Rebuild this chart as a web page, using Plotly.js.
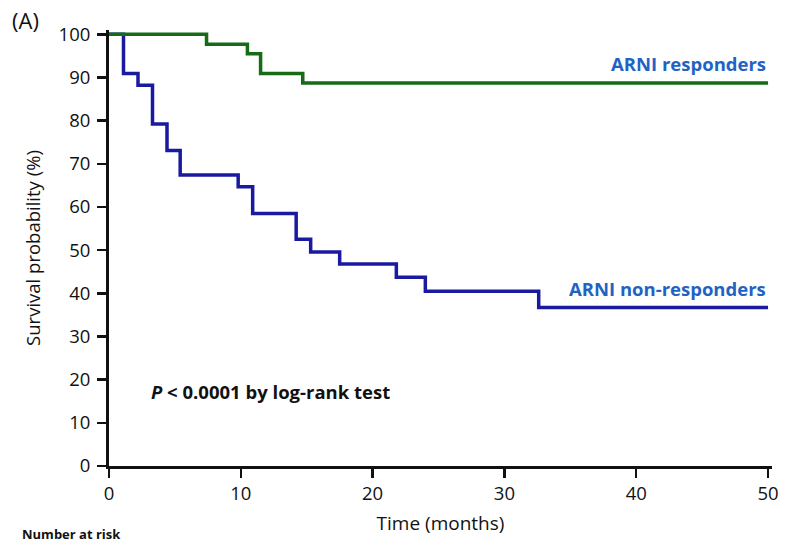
<!DOCTYPE html>
<html>
<head>
<meta charset="utf-8">
<script src="https://cdn.plot.ly/plotly-3.0.1.min.js"></script>
<style>html,body{margin:0;padding:0;background:#fff;}#chart{width:786px;height:545px;}</style>
</head>
<body>
<div id="chart"></div>
<script>
// Kaplan-Meier step data (time in months, survival %)
var respTimes = [0, 7.4, 10.5, 11.5, 14.7, 50];
var respSurv = [100, 97.7, 95.5, 90.9, 88.7, 88.7];
var nonTimes = [0, 1.1, 2.2, 3.3, 4.4, 5.4, 9.8, 10.9, 14.2, 15.3, 17.5, 21.8, 24.0, 32.6, 50];
var nonSurv = [100, 90.9, 88.2, 79.2, 73.1, 67.4, 64.7, 58.5, 52.5, 49.6, 46.8, 43.7, 40.5, 36.7, 36.7];
var xTicks = [0, 10, 20, 30, 40, 50];
var yTicks = [0, 10, 20, 30, 40, 50, 60, 70, 80, 90, 100];
var seriesNames = ["ARNI responders", "ARNI non-responders"];

var FONT = "Open Sans, Lato, sans-serif";

var traces = [
  {x: nonTimes, y: nonSurv, mode: "lines", line: {shape: "hv", color: "#1a1aa0", width: 3.5}, name: seriesNames[1]},
  {x: respTimes, y: respSurv, mode: "lines", line: {shape: "hv", color: "#176b17", width: 3.5}, name: seriesNames[0]}
];

var layout = {
  width: 786, height: 545,
  margin: {l: 109, r: 14, t: 30, b: 79},
  paper_bgcolor: "#fff", plot_bgcolor: "#fff",
  showlegend: false,
  font: {family: FONT, color: "#111", size: 18},
  xaxis: {
    range: [0, 50.3], tickvals: xTicks, ticktext: xTicks.map(String),
    showgrid: false, zeroline: false, showline: true, linecolor: "#111", linewidth: 3,
    ticks: "outside", ticklen: 9, tickwidth: 2.5, tickcolor: "#111",
    tickfont: {family: FONT, size: 18.5, color: "#111"},
    title: {text: "Time (months)", font: {family: FONT, size: 19, color: "#111"}, standoff: 13}
  },
  yaxis: {
    range: [0, 101], tickvals: yTicks, ticktext: yTicks.map(String),
    showgrid: false, zeroline: false, showline: true, linecolor: "#111", linewidth: 3,
    ticks: "outside", ticklen: 9, tickwidth: 2.5, tickcolor: "#111",
    tickfont: {family: FONT, size: 18.5, color: "#111"},
    ticklabelstandoff: 3,
    title: {text: "Survival probability (%)", font: {family: FONT, size: 18.5, color: "#111"}, standoff: 14}
  },
  annotations: [
    {text: "(A)", xref: "paper", yref: "paper", x: 0, y: 1, xshift: -99, yshift: 10, xanchor: "left", yanchor: "middle", showarrow: false, font: {family: FONT, size: 22, color: "#111"}},
    {text: "<b>ARNI responders</b>", xref: "x", yref: "y", x: 50, y: 88.7, xanchor: "right", yanchor: "bottom", yshift: 5, showarrow: false, font: {family: FONT, size: 18.5, color: "#1f63c4"}},
    {text: "<b>ARNI non-responders</b>", xref: "x", yref: "y", x: 50, y: 36.7, xanchor: "right", yanchor: "bottom", yshift: 5, showarrow: false, font: {family: FONT, size: 18.5, color: "#1f63c4"}},
    {text: "<b><i>P</i> &lt; 0.0001 by log-rank test</b>", xref: "x", yref: "y", x: 3, y: 17.3, xanchor: "left", yanchor: "middle", showarrow: false, font: {family: FONT, size: 18.5, color: "#111"}},
    {text: "<b>Number at risk</b>", xref: "paper", yref: "paper", x: 0, y: 0, xshift: -89, yshift: -79, xanchor: "left", yanchor: "bottom", showarrow: false, font: {family: FONT, size: 13, color: "#111"}}
  ]
};

Plotly.newPlot("chart", traces, layout, {displayModeBar: false, staticPlot: true});
</script>
</body>
</html>
